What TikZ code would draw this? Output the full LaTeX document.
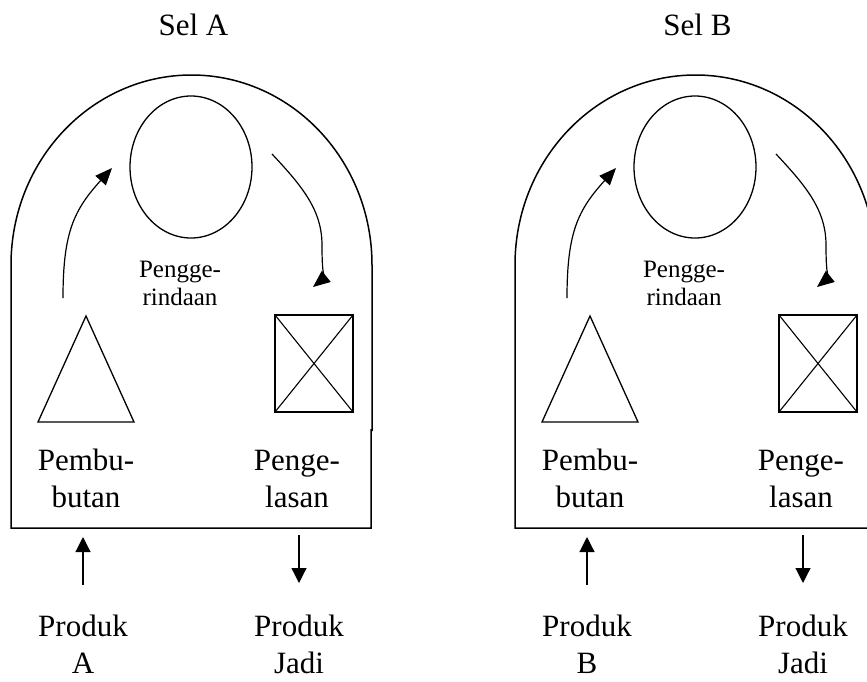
\documentclass[tikz,border=0pt]{standalone}
\usepackage{fontspec}
\setmainfont{Liberation Serif}
\usetikzlibrary{arrows.meta,shapes.geometric}

\tikzset{
  outline/.style={line width=1.5pt},
  station/.style={draw, line width=1.3pt, inner sep=0pt, outer sep=0pt},
  crossline/.style={line width=1.1pt},
  flow/.style={line width=1.2pt, -{Triangle[length=17pt,width=14pt]}},
  io/.style={line width=1.2pt, -{Triangle[length=15pt,width=15pt]}},
  biglabel/.style={font=\fontsize{31}{37}\selectfont, align=center, inner sep=0pt},
  smalllabel/.style={font=\fontsize{25}{28}\selectfont, align=center, inner sep=0pt},
}

% one manufacturing cell: #1 name suffix, #2 cell letter
% (two-line labels are placed by the baseline of their last line)
\newcommand\workcell[2]{%
  % cell title
  \node[biglabel, anchor=base] (sel#1) at (193.5,35) {Sel #2};
  % U-shaped cell boundary
  \draw[outline] (372,431) -- (372,265)
    arc[start angle=0, end angle=180, x radius=180.5pt, y radius=190pt]
    -- (11,528) -- (371,528) -- (371,429);
  % grinding station
  \node[station, ellipse, minimum width=122pt, minimum height=142pt] (grind#1) at (191,167) {};
  \node[smalllabel, anchor=base] (grindlbl#1) at (180,305) {Pengge-\\rindaan};
  % turning station
  \coordinate (turnapex#1) at (86,316);
  \coordinate (turnright#1) at (134,422);
  \coordinate (turnleft#1) at (38,422);
  \draw[station] (turnapex#1) -- (turnright#1) -- (turnleft#1) -- cycle;
  \node[biglabel, anchor=base] (turnlbl#1) at (86,507) {Pembu-\\butan};
  % welding station
  \node[station, rectangle, minimum width=78pt, minimum height=97pt] (weld#1) at (314,363.5) {};
  \draw[crossline] (weld#1.north west) -- (weld#1.south east);
  \draw[crossline] (weld#1.south west) -- (weld#1.north east);
  \node[biglabel, anchor=base] (weldlbl#1) at (297,507) {Penge-\\lasan};
  % material flow inside the cell
  \coordinate (flowa#1) at (63,298);
  \coordinate (flowb#1) at (112,168);
  \coordinate (flowc#1) at (272,154);
  \coordinate (flowd#1) at (313,287);
  \draw[flow] (flowa#1) .. controls (63,232) and (74,210) .. (flowb#1);
  \draw[flow] (flowc#1) .. controls (302,186) and (322,210) .. (322,245)
    .. controls (322,266) and (323,279) .. (flowd#1);
  % product in and out
  \coordinate (intail#1) at (83,585);
  \coordinate (inhead#1) at (83,537);
  \coordinate (outtail#1) at (299,535);
  \coordinate (outhead#1) at (299,583);
  \draw[io] (intail#1) -- (inhead#1);
  \draw[io] (outtail#1) -- (outhead#1);
  \node[biglabel, anchor=base] (src#1) at (83,673) {Produk\\#2};
  \node[biglabel, anchor=base] (dst#1) at (299,673) {Produk\\Jadi};
}

\begin{document}
\begin{tikzpicture}[x=1pt, y=-1pt]
  \clip (0,0) rectangle (867,681);
  \workcell{a}{A}
  \begin{scope}[xshift=504pt]
    \workcell{b}{B}
  \end{scope}
\end{tikzpicture}
\end{document}
